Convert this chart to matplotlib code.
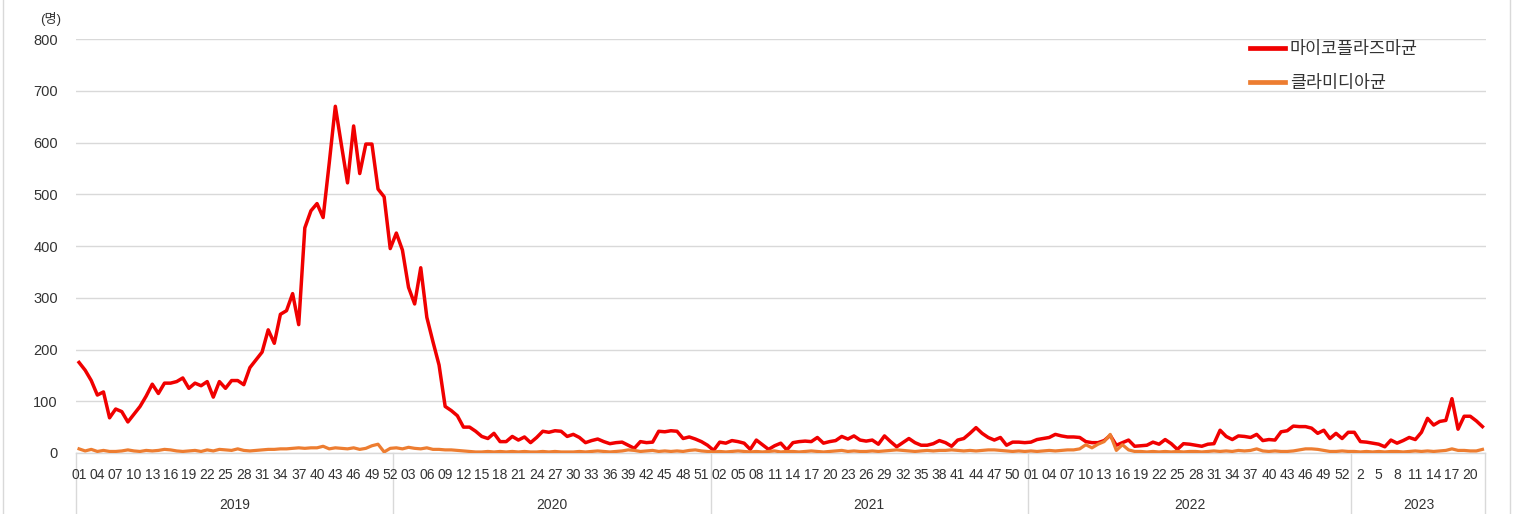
import matplotlib
matplotlib.use("Agg")
import matplotlib.pyplot as plt
from matplotlib.lines import Line2D
import numpy as np

plt.rcParams['font.family'] = ['Liberation Sans', 'Noto Sans CJK KR', 'DejaVu Sans']

years = [2019, 2020, 2021, 2022, 2023]
weeks_per_year = [52, 52, 52, 53, 22]
series_names = ['마이코플라즈마균', '클라미디아균']
unit_label = '(명)'

myco_2019 = [175, 160, 140, 112, 118, 68, 85, 80, 60, 75,
             90, 110, 133, 115, 135, 135, 138, 145, 125, 135,
             130, 138, 108, 138, 125, 140, 140, 132, 165, 180,
             195, 238, 212, 268, 275, 308, 248, 435, 468, 482,
             455, 560, 670, 595, 522, 632, 540, 597, 597, 510,
             495, 395]
myco_2020 = [425, 392, 320, 288, 358, 262, 215, 170, 90, 82,
             72, 50, 50, 42, 32, 28, 38, 22, 22, 32,
             25, 31, 20, 30, 42, 40, 43, 42, 32, 36,
             30, 20, 24, 27, 22, 18, 20, 21, 15, 9,
             22, 20, 21, 42, 41, 43, 42, 28, 31, 27,
             22, 15]
myco_2021 = [5, 21, 19, 24, 22, 19, 7, 25, 16, 7,
             14, 19, 6, 20, 22, 23, 22, 30, 19, 22,
             24, 32, 27, 33, 25, 23, 25, 17, 33, 22,
             12, 20, 28, 20, 15, 15, 18, 24, 20, 13,
             25, 28, 38, 49, 38, 30, 25, 30, 15, 21,
             21, 20]
myco_2022 = [21, 26, 28, 30, 36, 33, 31, 31, 30, 22,
             20, 20, 24, 34, 15, 20, 25, 13, 14, 15,
             21, 17, 26, 18, 7, 18, 17, 15, 13, 17,
             18, 44, 32, 26, 33, 32, 30, 36, 24, 26,
             25, 41, 43, 52, 51, 51, 48, 38, 44, 28,
             38, 28, 40]
myco_2023 = [40, 22, 21, 19, 17, 12, 25, 19, 24, 30,
             26, 40, 67, 54, 61, 63, 105, 46, 71, 71,
             62, 51]

chla_2019 = [8, 4, 7, 3, 5, 3, 3, 4, 6, 4,
             3, 5, 4, 5, 7, 6, 4, 3, 4, 5,
             3, 6, 4, 7, 6, 5, 8, 5, 4, 5,
             6, 7, 7, 8, 8, 9, 10, 9, 10, 10,
             13, 8, 10, 9, 8, 10, 7, 9, 14, 17,
             2, 9]
chla_2020 = [10, 8, 11, 9, 8, 10, 7, 7, 6, 6,
             5, 4, 3, 2, 2, 3, 2, 3, 2, 3,
             2, 3, 2, 2, 3, 2, 3, 2, 2, 2,
             3, 2, 3, 4, 3, 2, 3, 4, 6, 5,
             3, 4, 5, 3, 4, 3, 4, 3, 5, 6,
             4, 3]
chla_2021 = [2, 3, 2, 3, 4, 3, 2, 3, 2, 3,
             4, 2, 3, 3, 2, 3, 4, 3, 2, 3,
             4, 5, 3, 4, 3, 3, 4, 3, 4, 5,
             6, 5, 4, 3, 4, 5, 4, 5, 5, 6,
             5, 4, 5, 4, 5, 6, 6, 5, 4, 3,
             4, 3]
chla_2022 = [4, 3, 4, 5, 4, 5, 6, 6, 8, 16,
             10, 17, 22, 36, 5, 16, 6, 3, 3, 2,
             3, 2, 3, 2, 3, 2, 3, 3, 2, 3,
             4, 3, 4, 3, 5, 4, 5, 8, 4, 3,
             4, 3, 3, 4, 6, 8, 8, 7, 5, 3,
             3, 4, 3]
chla_2023 = [3, 2, 3, 2, 3, 2, 3, 3, 2, 3,
             4, 3, 4, 3, 4, 5, 8, 5, 5, 4,
             4, 7]

myco = myco_2019 + myco_2020 + myco_2021 + myco_2022 + myco_2023
chla = chla_2019 + chla_2020 + chla_2021 + chla_2022 + chla_2023

# category labels
week_nums = []
week_years = []
for y, n in zip(years, weeks_per_year):
    for w in range(1, n + 1):
        week_nums.append(w)
        week_years.append(y)
n_cat = len(week_nums)
xs = np.arange(n_cat)

W, H = 1520, 514
fig = plt.figure(figsize=(W / 100, H / 100), dpi=100)
left_px, right_px, top_px, bot_px = 76, 1485.5, 39, 453
ax = fig.add_axes([left_px / W, 1 - bot_px / H, (right_px - left_px) / W, (bot_px - top_px) / H])

grid_c = '#D9D9D9'
text_c = '#333333'

ax.plot(xs, myco, color='#F00000', lw=2.5, label=series_names[0], solid_joinstyle='round', zorder=3)
ax.plot(xs, chla, color='#ED7D31', lw=2.3, label=series_names[1], solid_joinstyle='round', zorder=4)

ax.set_xlim(-0.5, n_cat - 0.5)
ax.set_ylim(0, 800)
ax.set_yticks(np.arange(0, 801, 100))
ax.yaxis.grid(True, color=grid_c, lw=1)
ax.set_axisbelow(True)
for s in ['top', 'right', 'left']:
    ax.spines[s].set_visible(False)
ax.spines['bottom'].set_color(grid_c)
ax.spines['bottom'].set_linewidth(1)
ax.tick_params(axis='y', length=0, pad=13, labelsize=10.5, labelcolor=text_c)
ax.set_xticks([])

trans = ax.get_xaxis_transform()
ax_h = bot_px - top_px
# week labels
for i in range(0, n_cat, 3):
    w = week_nums[i]
    lab = f"{w}" if week_years[i] == 2023 else f"{w:02d}"
    ax.text(i, -(475 - bot_px) / ax_h, lab, transform=trans, ha='center', va='center',
            fontsize=10, color=text_c, clip_on=False)
# year labels and separators
start = 0
bounds = [-0.5]
for y, n in zip(years, weeks_per_year):
    mid = start + (n - 1) / 2
    ax.text(mid, -(505 - bot_px) / ax_h, str(y), transform=trans, ha='center', va='center',
            fontsize=10, color=text_c, clip_on=False)
    start += n
    bounds.append(start - 0.5)
for b in bounds:
    ax.plot([b, b], [0, -(H + 5 - bot_px) / ax_h], transform=trans, color=grid_c, lw=1, clip_on=False)

# unit label
fig.text(51 / W, 1 - 19 / H, unit_label, ha='center', va='center', fontsize=9.5, color=text_c)

# legend
leg = ax.legend(loc='upper left', bbox_to_anchor=(1250 / W, 1 - 41 / H), bbox_transform=fig.transFigure,
                frameon=False, fontsize=12.5, handlelength=2.0, handletextpad=0.3,
                labelspacing=1.05, borderpad=0, borderaxespad=0)
for t in leg.get_texts():
    t.set_color(text_c)
for h in leg.get_lines():
    h.set_linewidth(3.4)

# outer chart border (left/right visible)
fig.add_artist(Line2D([3.5 / W, 3.5 / W], [0, 1], transform=fig.transFigure, color=grid_c, lw=1))
fig.add_artist(Line2D([1510 / W, 1510 / W], [0, 1], transform=fig.transFigure, color=grid_c, lw=1))

fig.savefig('out.png', dpi=100)
